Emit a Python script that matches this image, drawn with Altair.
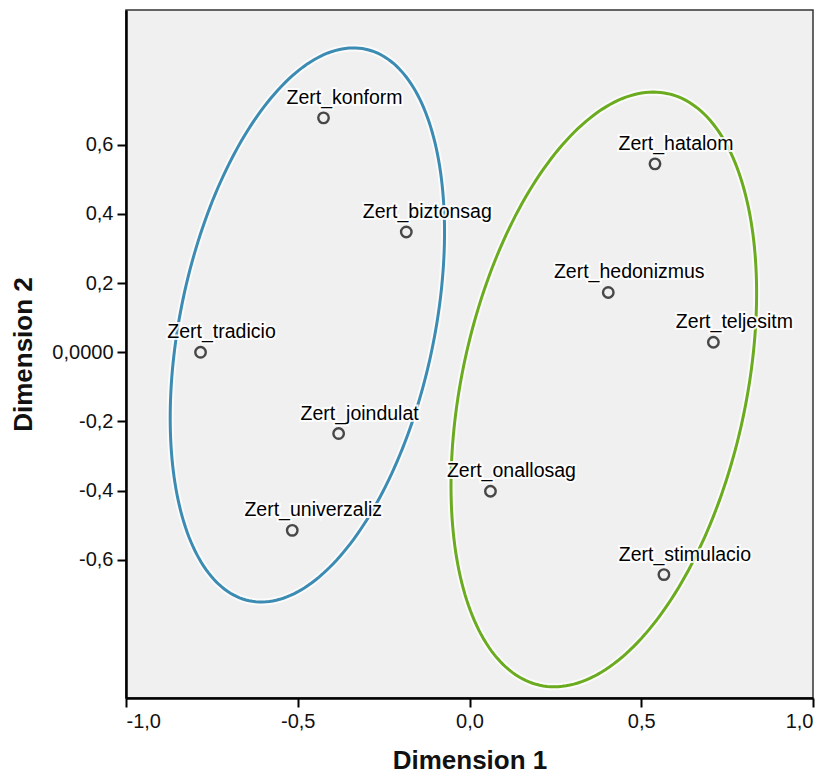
import altair as alt
import numpy as np
import pandas as pd

# --- point data ---
names = ["Zert_konform", "Zert_biztonsag", "Zert_tradicio", "Zert_joindulat",
         "Zert_univerzaliz", "Zert_hatalom", "Zert_hedonizmus", "Zert_teljesitm",
         "Zert_onallosag", "Zert_stimulacio"]
dim1 = [-0.425, -0.184, -0.783, -0.381, -0.516, 0.540, 0.404, 0.710, 0.061, 0.566]
dim2 = [0.678, 0.348, 0.000, -0.235, -0.515, 0.545, 0.173, 0.029, -0.402, -0.643]

# --- ellipse annotations (center, semi-axes, tilt in degrees from vertical) ---
ell_group = ["blue", "green"]
ell_cx = [-0.472, 0.391]
ell_cy = [0.079, -0.1075]
ell_a = [0.8155, 0.8756]
ell_b = [0.3696, 0.4133]
ell_tilt = [12.0, 12.3]
ell_colors = ["#3c8bb3", "#6bab1f"]

x_ticks = [-1.0, -0.5, 0.0, 0.5, 1.0]
y_ticks = [-0.6, -0.4, -0.2, 0.0, 0.2, 0.4, 0.6]

pts = pd.DataFrame({"name": names, "d1": dim1, "d2": dim2})

rows = []
t = np.linspace(0, 2 * np.pi, 241)
for g, cx, cy, a, b, tilt in zip(ell_group, ell_cx, ell_cy, ell_a, ell_b, ell_tilt):
    al = np.deg2rad(tilt)
    ux, uy = np.sin(al), np.cos(al)
    vx, vy = np.cos(al), -np.sin(al)
    for i, tt in enumerate(t):
        rows.append({"g": g, "o": i,
                     "d1": cx + a * np.cos(tt) * ux + b * np.sin(tt) * vx,
                     "d2": cy + a * np.cos(tt) * uy + b * np.sin(tt) * vy})
ell = pd.DataFrame(rows)

FONT = "Liberation Sans"

xscale = alt.Scale(domain=[-1.0, 1.0], nice=False, zero=False)
yscale = alt.Scale(domain=[-1.0, 0.99], nice=False, zero=False)

num_expr = "(datum.value < 0 ? '-' : '') + replace(format(abs(datum.value), '.1f'), '.', ',')"
y_expr = "datum.value == 0 ? '0,0000' : " + num_expr

xaxis = alt.Axis(values=x_ticks, labelExpr=num_expr, title="Dimension 1",
                 grid=False, domainColor="#000", domainWidth=2.5,
                 tickColor="#000", tickWidth=2, tickSize=9,
                 labelFont=FONT, labelFontSize=20, labelColor="#111",
                 labelPadding=4, titleFont=FONT, titleFontSize=26,
                 titleFontWeight="bold", titleColor="#111", titlePadding=16)
yaxis = alt.Axis(values=y_ticks, labelExpr=y_expr, title="Dimension 2",
                 grid=False, domainColor="#000", domainWidth=2.5,
                 tickColor="#000", tickWidth=2, tickSize=9,
                 labelFont=FONT, labelFontSize=20, labelColor="#111",
                 labelPadding=4, titleFont=FONT, titleFontSize=26,
                 titleFontWeight="bold", titleColor="#111", titlePadding=15)

ell_halo = alt.Chart(ell).mark_line(strokeWidth=7, color="white", opacity=0.7).encode(
    x=alt.X("d1:Q", scale=xscale, axis=xaxis),
    y=alt.Y("d2:Q", scale=yscale, axis=yaxis),
    detail="g:N", order="o:Q")

ell_line = alt.Chart(ell).mark_line(strokeWidth=3).encode(
    x=alt.X("d1:Q", scale=xscale),
    y=alt.Y("d2:Q", scale=yscale),
    color=alt.Color("g:N", scale=alt.Scale(domain=ell_group, range=ell_colors), legend=None),
    detail="g:N", order="o:Q")

points = alt.Chart(pts).mark_point(shape="circle", filled=False, size=110,
                                   strokeWidth=2.4, color="#000").encode(
    x=alt.X("d1:Q", scale=xscale), y=alt.Y("d2:Q", scale=yscale))

label_halo = alt.Chart(pts).mark_text(font=FONT, fontSize=19.5, align="center",
                                      baseline="alphabetic", dx=21, dy=-14,
                                      stroke="white", strokeWidth=4, strokeOpacity=0.85,
                                      fill="white").encode(
    x=alt.X("d1:Q", scale=xscale), y=alt.Y("d2:Q", scale=yscale), text="name:N")

labels = alt.Chart(pts).mark_text(font=FONT, fontSize=19.5, align="center",
                                  baseline="alphabetic", dx=21, dy=-14,
                                  color="#000").encode(
    x=alt.X("d1:Q", scale=xscale), y=alt.Y("d2:Q", scale=yscale), text="name:N")

chart = alt.layer(ell_halo, ell_line, label_halo, labels, points).properties(
    width=687, height=688,
    padding={"left": 126, "top": 10, "right": 16, "bottom": 80},
    autosize=alt.AutoSizeParams(type="none"),
    background="white",
).configure_view(fill="#f0f0f0", stroke="#333", strokeWidth=1.5)

chart.save("out.html", embed_options={"renderer": "svg", "actions": False})
